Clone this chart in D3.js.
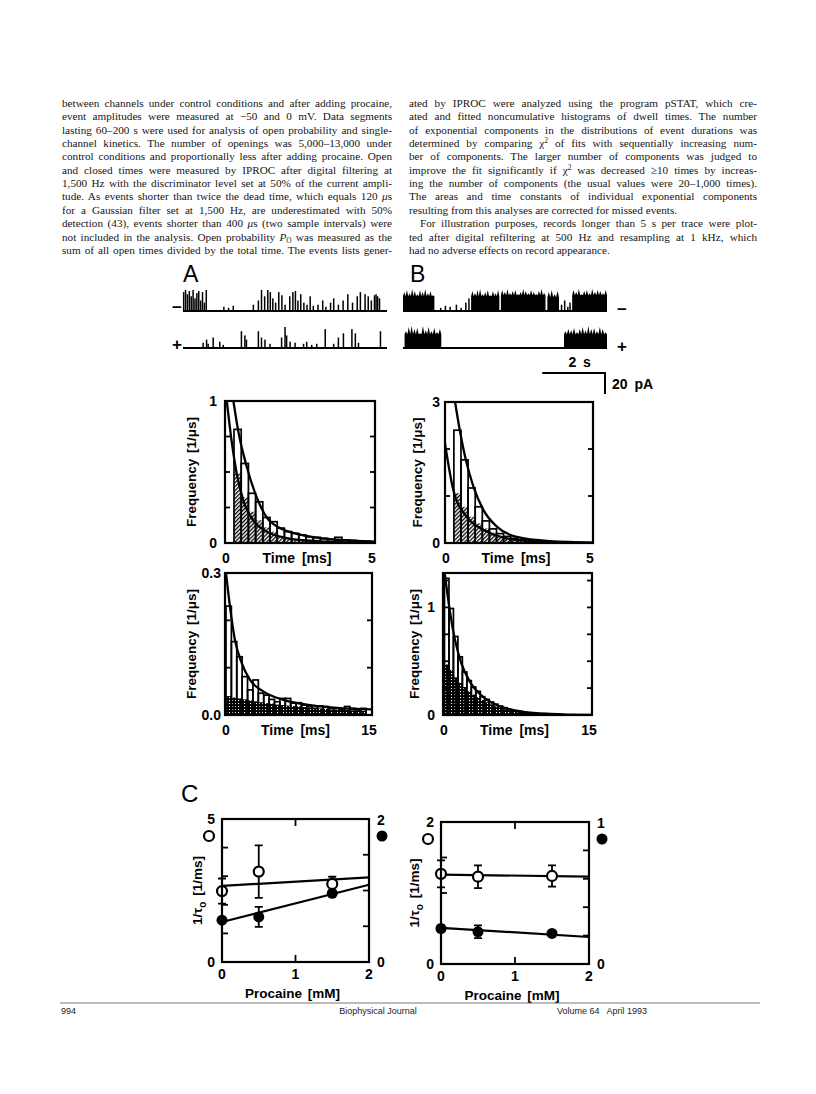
<!DOCTYPE html>
<html>
<head>
<meta charset="utf-8">
<script src="https://cdn.jsdelivr.net/npm/d3@7"></script>
<style>
  body { margin: 0; background: #fff; }
  svg { display: block; }
  .body { font-family: "Liberation Serif", "Times New Roman", serif; font-size: 11.2px; fill: #151515; }
  .fig { font-family: "Liberation Sans", Arial, sans-serif; font-weight: bold; fill: #000; }
  .foot { font-family: "Liberation Sans", Arial, sans-serif; font-size: 9px; fill: #222; }
</style>
</head>
<body>
<svg id="page" width="816" height="1094"></svg>
<script>
// ---- body text (two justified columns) ----
const leftLines = [
  "between channels under control conditions and after adding procaine,",
  "event amplitudes were measured at −50 and 0 mV. Data segments",
  "lasting 60–200 s were used for analysis of open probability and single-",
  "channel kinetics. The number of openings was 5,000–13,000 under",
  "control conditions and proportionally less after adding procaine. Open",
  "and closed times were measured by IPROC after digital filtering at",
  "1,500 Hz with the discriminator level set at 50% of the current ampli-",
  "tude. As events shorter than twice the dead time, which equals 120 *μ*s",
  "for a Gaussian filter set at 1,500 Hz, are underestimated with 50%",
  "detection (43), events shorter than 400 *μ*s (two sample intervals) were",
  "not included in the analysis. Open probability *P*_{O} was measured as the",
  "sum of all open times divided by the total time. The events lists gener-"
];
const rightLines = [
  "ated by IPROC were analyzed using the program pSTAT, which cre-",
  "ated and fitted noncumulative histograms of dwell times. The number",
  "of exponential components in the distributions of event durations was",
  "determined by comparing χ^{2} of fits with sequentially increasing num-",
  "ber of components. The larger number of components was judged to",
  "improve the fit significantly if χ^{2} was decreased ≥10 times by increas-",
  "ing the number of components (the usual values were 20–1,000 times).",
  "The areas and time constants of individual exponential components",
  "resulting from this analyses are corrected for missed events.",
  "\tFor illustration purposes, records longer than 5 s per trace were plot-",
  "ted after digital refiltering at 500 Hz and resampling at 1 kHz, which",
  "had no adverse effects on record appearance."
];
const rightRagged = [8, 11];

// ---- single-channel traces (time s, amplitude pA) ----
const traceDur = 6.5;
const aMinusSpikes = [
  [0.02,18],[0.08,20],[0.14,16],[0.2,19],[0.26,14],[0.32,20],[0.38,12],[0.44,17],[0.5,19],[0.56,10],
  [0.62,18],[0.68,8],[0.74,20],[1.3,4],[1.45,3],[1.6,5],[2.24,6],[2.4,10],[2.5,20],[2.6,14],[2.7,20],
  [2.78,18],[2.86,12],[2.95,8],[3.05,18],[3.15,15],[3.25,6],[3.4,14],[3.5,18],[3.58,19],[3.66,10],
  [3.75,16],[3.85,8],[3.95,6],[4.05,14],[4.15,5],[4.3,6],[4.45,10],[4.55,4],[4.7,8],[4.8,12],[4.95,6],
  [5.1,10],[5.25,16],[5.4,8],[5.55,14],[5.65,18],[5.8,16],[5.9,14],[6.0,10],[6.1,15],[6.15,16],[6.2,14],[6.26,12]
];
const aPlusSpikes = [
  [0.64,5],[0.75,8],[0.8,4],[0.96,10],[1.17,6],[1.28,3],[1.86,16],[1.97,12],[2.02,8],[2.4,16],[2.5,10],
  [2.61,8],[2.77,4],[3.14,10],[3.25,20],[3.3,12],[3.41,6],[3.57,5],[3.84,4],[3.94,6],[4.1,3],[4.26,4],
  [4.53,18],[4.8,4],[4.95,10],[5.11,14],[5.38,18],[5.49,14],[5.59,5],[6.29,16]
];
const bMinusSpikes = [[1.2,3],[1.35,5],[1.5,4],[1.7,6],[1.85,3],[2.0,8],[2.1,12],[5.05,6],[5.15,10],[5.25,4],[5.32,8]];
const bMinusBursts = [
  { t0: 0.0, t1: 1.0, floor: 14, peaks: [18,20,17,21,19,16,20,18,21,17,19,15] },
  { t0: 2.17, t1: 3.07, floor: 14, peaks: [19,17,20,21,16,18,20,15,19,17,20] },
  { t0: 3.12, t1: 4.54, floor: 15, peaks: [20,18,21,17,19,20,16,18,21,19,17,20,18,16,19,21,17] },
  { t0: 4.6, t1: 4.97, floor: 13, peaks: [18,20,16,19] },
  { t0: 5.39, t1: 6.5, floor: 15, peaks: [20,18,21,16,19,20,17,21,18,20,19,17,20] }
];
const bPlusSpikes = [];
const bPlusBursts = [
  { t0: 0.05, t1: 1.22, floor: 13, peaks: [16,20,21,18,19,14,21,17,20,16,19,15,18] },
  { t0: 5.13, t1: 6.5, floor: 13, peaks: [16,18,17,19,15,18,20,17,21,18,19,16,20,18,15] }
];
const scaleBar = { s: 2, pA: 20 };

// ---- dwell-time histograms: bins [start, width] in ms ----
const a1Bin = [0.3, 0.24];
const a1Bars = [0.80,0.56,0.35,0.29,0.18,0.15,0.105,0.08,0.068,0.056,0.044,0.04,0.033,0.026,0.04,0.022,0.018,0.015,0.012];
const a1Hatch = [0.49,0.32,0.22,0.16,0.11,0.08,0.05,0.035,0.025,0.015,0.01,0.007,0.005,0.004,0.003,0.002,0.002,0.001,0.001];
const a1Fit = [[0.28,1.0],[0.44,0.79],[0.72,0.54],[1.06,0.32],[1.39,0.18],[1.83,0.105],[2.39,0.065],[3.17,0.035],[3.72,0.023],[5,0.01]];
const a1Comp = [[0.06,1.0],[0.22,0.72],[0.39,0.49],[0.61,0.30],[0.94,0.16],[1.39,0.08],[2.06,0.035],[3.17,0.012],[5,0]];

const b1Bin = [0.3, 0.24];
const b1Bars = [2.4,1.77,1.17,0.77,0.47,0.3,0.2,0.14,0.1,0.07,0.05,0.04,0.03,0.025,0.02,0.015,0.012,0.01,0.008];
const b1Hatch = [1.06,0.77,0.56,0.42,0.31,0.22,0.15,0.1,0.07,0.05,0.03,0.02,0.015,0.01,0.008,0.005,0.004,0.003,0.002];
const b1Fit = [[0.34,3.0],[0.5,2.4],[0.73,1.7],[0.96,1.2],[1.3,0.7],[1.75,0.35],[2.42,0.13],[3.55,0.04],[5,0.01]];
const b1Comp = [[0,2.12],[0.28,1.13],[0.73,0.56],[1.3,0.28],[2.08,0.1],[3.2,0.03],[5,0]];

const a2Bin = [0.1, 0.55];
const a2Bars = [0.23,0.155,0.123,0.081,0.053,0.074,0.046,0.042,0.033,0.028,0.035,0.035,0.025,0.026,0.021,0.018,0.014,0.019,0.018,0.014,0.015,0.012,0.018,0.014,0.011,0.014];
const a2Hatch = [0.04,0.037,0.035,0.033,0.031,0.029,0.027,0.025,0.024,0.022,0.021,0.02,0.019,0.018,0.017,0.016,0.015,0.014,0.013,0.012,0.012,0.011,0.011,0.01,0.01,0.009];
const a2Fit = [[0.1,0.3],[0.5,0.23],[1.0,0.16],[1.7,0.11],[2.55,0.074],[3.9,0.05],[5.95,0.032],[8.7,0.021],[12.1,0.014],[15,0.012]];

const b2Bin = [0.15, 0.45];
const b2Bars = [1.27,0.99,0.73,0.54,0.40,0.32,0.26,0.22,0.17,0.145,0.12,0.10,0.083,0.068,0.052,0.04,0.03,0.025,0.02,0.016,0.013,0.01,0.008,0.006,0.005,0.004];
const b2Hatch = [0.47,0.42,0.35,0.30,0.26,0.22,0.19,0.165,0.14,0.12,0.10,0.08,0.065,0.055,0.045,0.037,0.03,0.025,0.02,0.017,0.014,0.011,0.009,0.007,0.006,0.005];
const b2Fit = [[0.17,1.32],[0.67,0.98],[1.18,0.71],[1.85,0.48],[2.7,0.31],[4.0,0.17],[5.7,0.08],[8.1,0.03],[10.8,0.01],[15,0]];

// ---- panel C: 1/tau vs procaine (mM) ----
const procaine = [0, 0.5, 1.5];
const cLeftOpen = [2.48, 3.16, 2.73];
const cLeftOpenErr = [0.44, 0.92, 0.25];
const cLeftOpenFit = [[0, 2.66], [2, 2.96]];
const cLeftFilled = [0.585, 0.63, 0.96];
const cLeftFilledErr = [0.03, 0.14, 0.03];
const cLeftFilledFit = [[0, 0.56], [2, 1.08]];
const cRightOpen = [1.27, 1.23, 1.24];
const cRightOpenErr = [0.19, 0.16, 0.15];
const cRightOpenFit = [[0, 1.26], [2, 1.23]];
const cRightFilled = [0.25, 0.227, 0.215];
const cRightFilledErr = [0.02, 0.045, 0.01];
const cRightFilledFit = [[0, 0.255], [2, 0.19]];

// ====================================================================
const svg = d3.select('#page');
svg.append('rect').attr('width', 816).attr('height', 1094).attr('fill', '#fff');

const defs = svg.append('defs');
const pd = defs.append('pattern').attr('id', 'diag').attr('patternUnits', 'userSpaceOnUse')
  .attr('width', 2.8).attr('height', 2.8).attr('patternTransform', 'rotate(45)');
pd.append('rect').attr('width', 2.8).attr('height', 2.8).attr('fill', '#fff');
pd.append('rect').attr('width', 1.3).attr('height', 2.8).attr('fill', '#000');
const pdot = defs.append('pattern').attr('id', 'dots').attr('patternUnits', 'userSpaceOnUse')
  .attr('width', 3).attr('height', 3);
pdot.append('rect').attr('width', 3).attr('height', 3).attr('fill', '#000');
pdot.append('rect').attr('x', 1).attr('y', 1).attr('width', 1.1).attr('height', 1.1).attr('fill', '#fff');

// rich text: _{sub}, ^{sup}, *italic*
function richText(sel, str) {
  str.split(/(_\{[^}]*\}|\^\{[^}]*\}|\*[^*]+\*)/).filter(s => s.length).forEach(p => {
    if (p.startsWith('_{')) sel.append('tspan').attr('baseline-shift', '-2').attr('font-size', '0.66em').text(p.slice(2, -1));
    else if (p.startsWith('^{')) sel.append('tspan').attr('baseline-shift', '4').attr('font-size', '0.66em').text(p.slice(2, -1));
    else if (p.startsWith('*')) sel.append('tspan').attr('font-style', 'italic').text(p.slice(1, -1));
    else sel.append('tspan').text(p);
  });
}

function column(lines, x0, x1, y0, ragged) {
  const lh = 13.35;
  lines.forEach((ln, i) => {
    const ind = ln.startsWith('\t') ? 11 : 0;
    const txt = ln.replace('\t', '');
    const t = svg.append('text').attr('class', 'body').attr('x', x0 + ind).attr('y', y0 + i * lh);
    richText(t, txt);
    if (!ragged.includes(i)) {
      const w = t.node().getComputedTextLength();
      const n = (txt.match(/ /g) || []).length;
      if (n) t.attr('word-spacing', ((x1 - x0 - ind) - w) / n);
    }
  });
}
column(leftLines, 62, 392, 107, []);
column(rightLines, 409, 757, 107, rightRagged);

// ---- traces ----
const trW = 204;
const tx = d3.scaleLinear().domain([0, traceDur]).range([0, trW]);
const ty = d3.scaleLinear().domain([0, 20]).range([0, -21]);
const burstLine = d3.line().x(d => tx(d[0])).y(d => ty(d[1]));

function drawTrace(x0, y0, spikes, bursts) {
  const g = svg.append('g').attr('transform', `translate(${x0},${y0})`);
  g.append('line').attr('x1', 0).attr('x2', trW).attr('stroke', '#000').attr('stroke-width', 2.2);
  g.selectAll('rect').data(spikes).join('rect')
    .attr('x', d => tx(d[0]) - 0.7).attr('width', 1.5)
    .attr('y', d => ty(d[1])).attr('height', d => -ty(d[1]) + 0.5)
    .attr('fill', '#000');
  bursts.forEach(b => {
    const step = (b.t1 - b.t0) / b.peaks.length;
    const pts = [[b.t0, 0], [b.t0, b.floor]];
    b.peaks.forEach((p, i) => {
      pts.push([b.t0 + (i + 0.5) * step, p]);
      pts.push([b.t0 + (i + 1) * step, b.floor]);
    });
    pts.push([b.t1, 0]);
    g.append('path').attr('d', burstLine(pts) + 'Z').attr('fill', '#000');
  });
}
drawTrace(183, 311, aMinusSpikes, []);
drawTrace(183, 348, aPlusSpikes, []);
drawTrace(403, 311, bMinusSpikes, bMinusBursts);
drawTrace(403, 348, bPlusSpikes, bPlusBursts);

svg.append('text').attr('x', 183).attr('y', 282).attr('font-family', 'Liberation Sans, Arial').attr('font-size', 23).text('A');
svg.append('text').attr('x', 410).attr('y', 282).attr('font-family', 'Liberation Sans, Arial').attr('font-size', 23).text('B');
[[177, 307, '−'], [177, 344, '+'], [622, 309, '−'], [622, 346, '+']].forEach(d => {
  svg.append('text').attr('class', 'fig').attr('x', d[0]).attr('y', d[1]).attr('text-anchor', 'middle')
    .attr('dominant-baseline', 'central').attr('font-size', 17).text(d[2]);
});

// scale bar
const sbX = 605, sbY = 373;
svg.append('path').attr('fill', 'none').attr('stroke', '#000').attr('stroke-width', 2)
  .attr('d', `M${sbX - (tx(scaleBar.s) - tx(0))},${sbY}H${sbX}V${sbY - ty(scaleBar.pA)}`);
svg.append('text').attr('class', 'fig').attr('x', sbX - (tx(scaleBar.s) - tx(0)) / 2 + 6).attr('y', 367)
  .attr('text-anchor', 'middle').attr('font-size', 14).attr('word-spacing', 3).text(`${scaleBar.s} s`);
svg.append('text').attr('class', 'fig').attr('x', 612).attr('y', 389).attr('font-size', 14)
  .attr('word-spacing', 3).text(`${scaleBar.pA} pA`);

// ---- histograms ----
let clipN = 0;
function drawHist(o) {
  const x = d3.scaleLinear().domain([0, o.tMax]).range([o.x, o.x + o.w]);
  const y = d3.scaleLinear().domain([0, o.yMax]).range([o.y + o.h, o.y]);
  const id = 'clip' + (clipN++);
  defs.append('clipPath').attr('id', id).append('rect').attr('x', o.x).attr('y', o.y).attr('width', o.w).attr('height', o.h);
  const g = svg.append('g').attr('clip-path', `url(#${id})`);
  const bx = i => x(o.bin[0] + i * o.bin[1]);
  const bw = x(o.bin[1]) - x(0);
  g.selectAll('rect.h').data(o.hatch).join('rect').attr('class', 'h')
    .attr('x', (d, i) => bx(i)).attr('width', bw)
    .attr('y', d => y(d)).attr('height', d => y(0) - y(d))
    .attr('fill', `url(#${o.pat})`);
  g.selectAll('rect.b').data(o.bars).join('rect').attr('class', 'b')
    .attr('x', (d, i) => bx(i)).attr('width', bw)
    .attr('y', d => y(d)).attr('height', d => y(0) - y(d))
    .attr('fill', 'none').attr('stroke', '#000').attr('stroke-width', 1.7);
  const line = d3.line().x(d => x(d[0])).y(d => y(d[1])).curve(d3.curveMonotoneX);
  o.fits.forEach(f => g.append('path').attr('d', line(f)).attr('fill', 'none').attr('stroke', '#000').attr('stroke-width', 2.3));

  svg.append('rect').attr('x', o.x).attr('y', o.y).attr('width', o.w).attr('height', o.h)
    .attr('fill', 'none').attr('stroke', '#000').attr('stroke-width', 2.2);
  o.ticks.forEach(v => {
    svg.append('line').attr('x1', o.x).attr('x2', o.x + 5).attr('y1', y(v)).attr('y2', y(v)).attr('stroke', '#000').attr('stroke-width', 1.8);
    svg.append('line').attr('x1', o.x + o.w - 5).attr('x2', o.x + o.w).attr('y1', y(v)).attr('y2', y(v)).attr('stroke', '#000').attr('stroke-width', 1.8);
  });
  o.yLabels.forEach(([v, s]) => {
    svg.append('text').attr('class', 'fig').attr('font-size', 14).attr('text-anchor', 'end')
      .attr('x', o.labX).attr('y', y(v) + 5).text(s);
  });
  const xb = o.y + o.h + 20;
  svg.append('text').attr('class', 'fig').attr('font-size', 14).attr('text-anchor', 'middle').attr('x', x(0) + 1).attr('y', xb).text('0');
  svg.append('text').attr('class', 'fig').attr('font-size', 14).attr('text-anchor', 'middle').attr('x', x(o.tMax) - 3).attr('y', xb).text(String(o.tMax));
  svg.append('text').attr('class', 'fig').attr('font-size', 14).attr('text-anchor', 'middle').attr('word-spacing', 3)
    .attr('x', o.x + o.w / 2 - 3).attr('y', xb).text('Time [ms]');
  svg.append('text').attr('class', 'fig').attr('font-size', 13.5).attr('text-anchor', 'middle').attr('dominant-baseline', 'central')
    .attr('transform', `translate(${o.yLabX},${o.y + o.h / 2}) rotate(-90)`).attr('word-spacing', 2).text('Frequency [1/μs]');
}

drawHist({ x: 225, y: 401, w: 150, h: 142, tMax: 5, yMax: 1, bin: a1Bin, bars: a1Bars, hatch: a1Hatch,
  fits: [a1Fit, a1Comp], pat: 'diag', ticks: [0.25, 0.5, 0.75], yLabels: [[1, '1'], [0, '0']], labX: 217, yLabX: 191 });
drawHist({ x: 445, y: 402, w: 148, h: 141, tMax: 5, yMax: 3, bin: b1Bin, bars: b1Bars, hatch: b1Hatch,
  fits: [b1Fit, b1Comp], pat: 'diag', ticks: [1, 2], yLabels: [[3, '3'], [0, '0']], labX: 440, yLabX: 417 });
drawHist({ x: 225, y: 573, w: 147, h: 142, tMax: 15, yMax: 0.3, bin: a2Bin, bars: a2Bars, hatch: a2Hatch,
  fits: [a2Fit], pat: 'dots', ticks: [0.1, 0.2], yLabels: [[0.3, '0.3'], [0, '0.0']], labX: 221, yLabX: 191 });
drawHist({ x: 443, y: 573, w: 149, h: 142, tMax: 15, yMax: 1.32, bin: b2Bin, bars: b2Bars, hatch: b2Hatch,
  fits: [b2Fit], pat: 'dots', ticks: [0.25, 0.5, 0.75, 1, 1.25], yLabels: [[1, '1'], [0, '0']], labX: 435, yLabX: 414 });

// ---- panel C ----
svg.append('text').attr('x', 181).attr('y', 802).attr('font-family', 'Liberation Sans, Arial').attr('font-size', 24).text('C');

function drawC(o) {
  const x = d3.scaleLinear().domain([0, 2]).range([o.x, o.x + o.w]);
  const yl = d3.scaleLinear().domain([0, o.lMax]).range([o.y + o.h, o.y]);
  const yr = d3.scaleLinear().domain([0, o.rMax]).range([o.y + o.h, o.y]);
  const stroke = (sel, w) => sel.attr('stroke', '#000').attr('stroke-width', w).attr('fill', 'none');

  o.lTicks.forEach(v => stroke(svg.append('line').attr('x1', o.x).attr('x2', o.x + 6).attr('y1', yl(v)).attr('y2', yl(v)), 1.8));
  o.rTicks.forEach(v => stroke(svg.append('line').attr('x1', o.x + o.w - 6).attr('x2', o.x + o.w).attr('y1', yr(v)).attr('y2', yr(v)), 1.8));
  stroke(svg.append('line').attr('x1', x(1)).attr('x2', x(1)).attr('y1', o.y).attr('y2', o.y + 7), 1.8);
  stroke(svg.append('line').attr('x1', x(1)).attr('x2', x(1)).attr('y1', o.y + o.h).attr('y2', o.y + o.h - 7), 1.8);

  const fitL = d3.line().x(d => x(d[0])).y(d => yl(d[1]));
  const fitR = d3.line().x(d => x(d[0])).y(d => yr(d[1]));
  stroke(svg.append('path').attr('d', fitL(o.openFit)), 2.2);
  stroke(svg.append('path').attr('d', fitR(o.filledFit)), 2.2);

  const errs = (vals, err, sc) => procaine.forEach((p, i) => {
    const y0 = sc(vals[i] - err[i]), y1 = sc(vals[i] + err[i]);
    stroke(svg.append('path').attr('d', `M${x(p)},${y0}V${y1}M${x(p) - 4},${y0}h8M${x(p) - 4},${y1}h8`), 1.8);
  });
  errs(o.open, o.openErr, yl);
  errs(o.filled, o.filledErr, yr);
  svg.selectAll(null).data(o.filled).join('circle').attr('cx', (d, i) => x(procaine[i])).attr('cy', d => yr(d))
    .attr('r', 5.5).attr('fill', '#000');
  svg.selectAll(null).data(o.open).join('circle').attr('cx', (d, i) => x(procaine[i])).attr('cy', d => yl(d))
    .attr('r', 5).attr('fill', '#fff').attr('stroke', '#000').attr('stroke-width', 2.2);

  stroke(svg.append('rect').attr('x', o.x).attr('y', o.y).attr('width', o.w).attr('height', o.h), 2.2);

  const lab = (xx, yy, s, anchor) => svg.append('text').attr('class', 'fig').attr('font-size', 14)
    .attr('text-anchor', anchor).attr('x', xx).attr('y', yy).text(s);
  lab(o.x - 7, o.y + 5, String(o.lMax), 'end');
  lab(o.x - 7, o.y + o.h + 5, '0', 'end');
  lab(o.x + o.w + 8, o.y + 6, String(o.rMax), 'start');
  lab(o.x + o.w + 8, o.y + o.h + 5, '0', 'start');
  svg.append('circle').attr('cx', o.x - 13).attr('cy', o.y + 17).attr('r', 5).attr('fill', '#fff').attr('stroke', '#000').attr('stroke-width', 2.2);
  svg.append('circle').attr('cx', o.x + o.w + 13).attr('cy', o.y + 17).attr('r', 5.5).attr('fill', '#000');
  [0, 1, 2].forEach(v => lab(x(v), o.y + o.h + 17, String(v), 'middle'));
  svg.append('text').attr('class', 'fig').attr('font-size', 13.5).attr('text-anchor', 'middle').attr('word-spacing', 2)
    .attr('x', x(1) - 3).attr('y', o.y + o.h + 36).text('Procaine [mM]');

  const t = svg.append('text').attr('class', 'fig').attr('font-size', 13.5).attr('text-anchor', 'middle')
    .attr('dominant-baseline', 'central').attr('word-spacing', 2)
    .attr('transform', `translate(${o.yLabX},${o.y + o.h / 2}) rotate(-90)`);
  t.append('tspan').text('1/τ');
  t.append('tspan').attr('baseline-shift', 'sub').attr('font-size', 10).text('o');
  t.append('tspan').text(' [1/ms]');
}

drawC({ x: 222, y: 819, w: 147, h: 143, lMax: 5, rMax: 2, lTicks: [1, 2, 3, 4], rTicks: [0.5, 1, 1.5],
  open: cLeftOpen, openErr: cLeftOpenErr, openFit: cLeftOpenFit,
  filled: cLeftFilled, filledErr: cLeftFilledErr, filledFit: cLeftFilledFit, yLabX: 197 });
drawC({ x: 441, y: 822, w: 148, h: 142, lMax: 2, rMax: 1, lTicks: [0.5, 1, 1.5], rTicks: [0.2, 0.4, 0.6, 0.8],
  open: cRightOpen, openErr: cRightOpenErr, openFit: cRightOpenFit,
  filled: cRightFilled, filledErr: cRightFilledErr, filledFit: cRightFilledFit, yLabX: 414 });

// ---- footer ----
svg.append('line').attr('x1', 60).attr('x2', 760).attr('y1', 1003).attr('y2', 1003).attr('stroke', '#555').attr('stroke-width', 0.8);
svg.append('text').attr('class', 'foot').attr('x', 61).attr('y', 1014).text('994');
svg.append('text').attr('class', 'foot').attr('x', 378).attr('y', 1014).attr('text-anchor', 'middle').text('Biophysical Journal');
svg.append('text').attr('class', 'foot').attr('x', 557).attr('y', 1014).attr('xml:space', 'preserve').text('Volume 64   April 1993');
</script>
</body>
</html>
